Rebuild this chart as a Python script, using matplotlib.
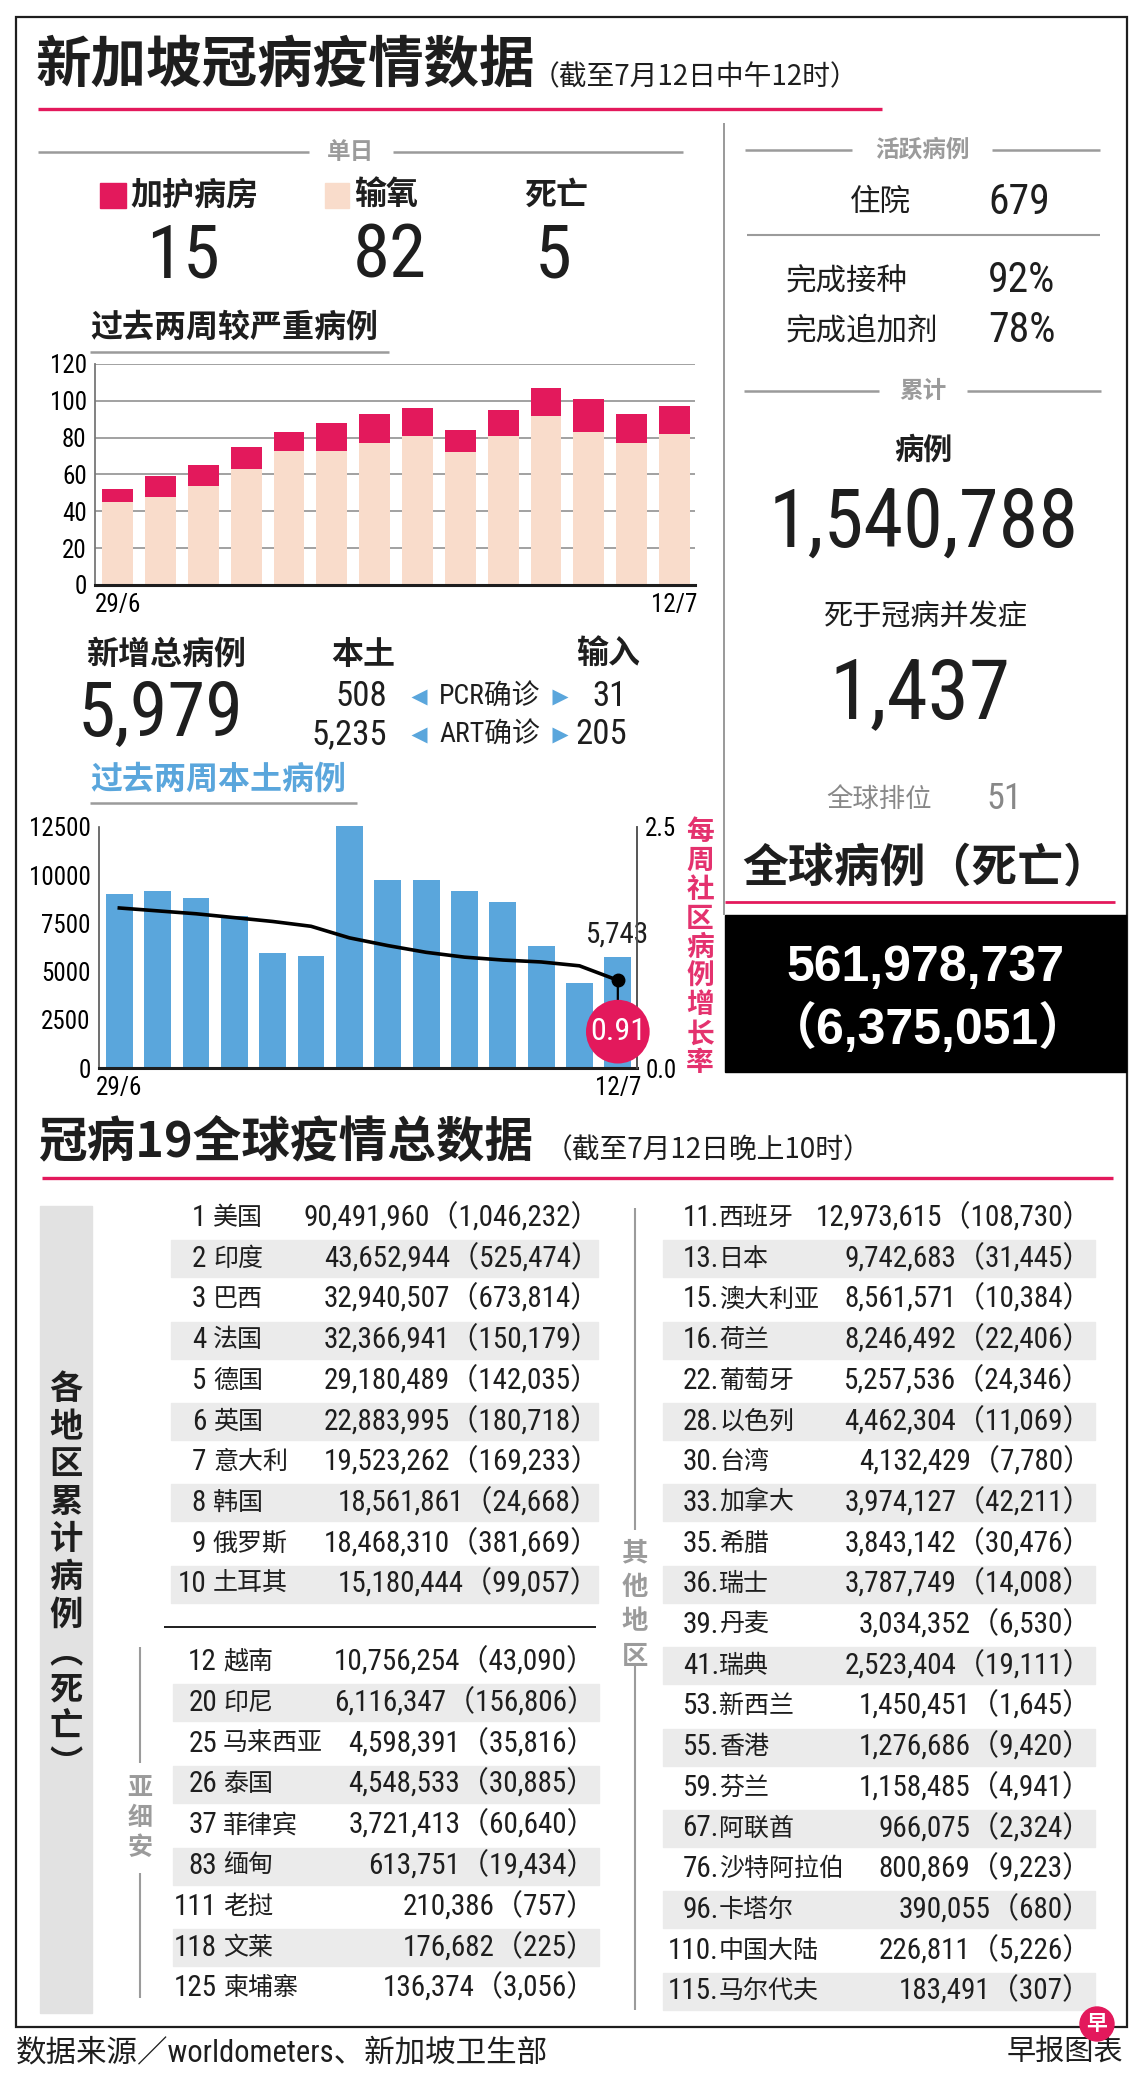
import matplotlib
matplotlib.use('Agg')
import matplotlib.pyplot as plt
from matplotlib import font_manager as fm
from matplotlib.patches import Rectangle, Circle

# ---------------- data ----------------
days = ['29/6', '30/6', '1/7', '2/7', '3/7', '4/7', '5/7', '6/7', '7/7',
        '8/7', '9/7', '10/7', '11/7', '12/7']
icu = [7, 11, 11, 12, 10, 15, 16, 15, 12, 14, 15, 18, 16, 15]
oxygen = [45, 48, 54, 63, 73, 73, 77, 81, 72, 81, 92, 83, 77, 82]
deaths_today = 5

local_cases = [9010, 9160, 8820, 7870, 5980, 5830, 12540, 9770, 9770,
               9160, 8590, 6350, 4410, 5743]
growth_rate = [1.66, 1.63, 1.60, 1.56, 1.52, 1.47, 1.35, 1.27, 1.20,
               1.15, 1.12, 1.10, 1.06, 0.91]

new_cases = 5979
pcr_local, pcr_import = 508, 31
art_local, art_import = 5235, 205

hospitalised = 679
vaccinated = '92%'
booster = '78%'
total_cases = 1540788
total_deaths = 1437
world_rank = 51
global_cases = 561978737
global_deaths = 6375051

top10_rank = [1, 2, 3, 4, 5, 6, 7, 8, 9, 10]
top10_name = ['美国', '印度', '巴西', '法国', '德国', '英国', '意大利', '韩国', '俄罗斯', '土耳其']
top10_cases = [90491960, 43652944, 32940507, 32366941, 29180489, 22883995,
               19523262, 18561861, 18468310, 15180444]
top10_deaths = [1046232, 525474, 673814, 150179, 142035, 180718, 169233,
                24668, 381669, 99057]

asean_rank = [12, 20, 25, 26, 37, 83, 111, 118, 125]
asean_name = ['越南', '印尼', '马来西亚', '泰国', '菲律宾', '缅甸', '老挝', '文莱', '柬埔寨']
asean_cases = [10756254, 6116347, 4598391, 4548533, 3721413, 613751,
               210386, 176682, 136374]
asean_deaths = [43090, 156806, 35816, 30885, 60640, 19434, 757, 225, 3056]

other_rank = [11, 13, 15, 16, 22, 28, 30, 33, 35, 36, 39, 41, 53, 55, 59,
              67, 76, 96, 110, 115]
other_name = ['西班牙', '日本', '澳大利亚', '荷兰', '葡萄牙', '以色列', '台湾', '加拿大',
              '希腊', '瑞士', '丹麦', '瑞典', '新西兰', '香港', '芬兰', '阿联酋',
              '沙特阿拉伯', '卡塔尔', '中国大陆', '马尔代夫']
other_cases = [12973615, 9742683, 8561571, 8246492, 5257536, 4462304,
               4132429, 3974127, 3843142, 3787749, 3034352, 2523404,
               1450451, 1276686, 1158485, 966075, 800869, 390055, 226811,
               183491]
other_deaths = [108730, 31445, 10384, 22406, 24346, 11069, 7780, 42211,
                30476, 14008, 6530, 19111, 1645, 9420, 4941, 2324, 9223,
                680, 5226, 307]

# ---------------- style ----------------
CRIMSON = '#e3195c'
PEACH = '#f9dccb'
BLUE = '#5aa6dc'
PINK = '#e4326e'
GRAY = '#9b9b9b'
STRIPE = '#ebebeb'
INK = '#1e1e1e'


def have(name):
    try:
        fm.findfont(fm.FontProperties(family=name), fallback_to_default=False)
        return True
    except Exception:
        return False


# the original uses a condensed grotesque for figures; use one if present,
# otherwise a regular sans set a little smaller
narrow = [f for f in ['Roboto Condensed', 'Liberation Sans Narrow',
                      'Arial Narrow', 'Nimbus Sans Narrow',
                      'DejaVu Sans Condensed'] if have(f)]
if narrow:
    NUMFACE, NF = narrow[0], 1.0
else:
    NUMFACE, NF = 'Liberation Sans', 0.84

CJK = ['Noto Sans CJK SC', 'DejaVu Sans']
NUM = [NUMFACE, 'Noto Sans CJK SC', 'DejaVu Sans']
BOLDNUM = ['Liberation Sans', 'Noto Sans CJK SC', 'DejaVu Sans']
plt.rcParams['font.family'] = CJK

W, H = 1140, 2076
fig = plt.figure(figsize=(W / 100, H / 100), dpi=100)
fig.patch.set_facecolor('white')

# pixel-space background axes
bg = fig.add_axes([0, 0, 1, 1])
bg.set_xlim(0, W)
bg.set_ylim(H, 0)
bg.axis('off')


def t(x, y, s, size, fam=CJK, ha='center', va='center', **kw):
    kw.setdefault('color', INK)
    bg.text(x, y, s, fontsize=size, family=fam, ha=ha, va=va, **kw)


def hline(x0, x1, y, color=GRAY, lw=1.5):
    bg.plot([x0, x1], [y, y], color=color, lw=lw, solid_capstyle='butt')


def vline(x, y0, y1, color=GRAY, lw=1.5):
    bg.plot([x, x], [y0, y1], color=color, lw=lw, solid_capstyle='butt')


def header(cx, y, label, x0, x1, gap):
    hline(x0, cx - gap, y, lw=1.8)
    hline(cx + gap, x1, y, lw=1.8)
    t(cx, y, label, 17, weight='bold', color=GRAY)


def fmt(v):
    return f'{v:,}'


# outer frame
bg.add_patch(Rectangle((16, 17), 1111, 2010, fill=False, ec=INK, lw=1.6))

# ---------------- title ----------------
t(36, 66, '新加坡冠病疫情数据', 40, ha='left', weight='bold')
t(532, 77, '（截至7月12日中午12时）', 20, ha='left')
hline(38, 882, 109, color=CRIMSON, lw=2.4)

# divider between left and right panels
vline(724, 123, 915, color='#888888', lw=1.2)

# ---------------- daily block ----------------
header(351, 152, '单日', 38, 683, 42)
bg.add_patch(Rectangle((100, 183), 26, 25, color=CRIMSON))
t(130, 196, '加护病房', 23, ha='left', weight='bold')
bg.add_patch(Rectangle((325, 183), 24, 25, color=PEACH))
t(354, 196, '输氧', 23, ha='left', weight='bold')
t(556, 196, '死亡', 23, weight='bold')
t(183, 257, str(icu[-1]), 54 * NF, fam=NUM)
t(390, 257, str(oxygen[-1]), 54 * NF, fam=NUM)
t(553, 257, str(deaths_today), 54 * NF, fam=NUM)

t(90, 328, '过去两周较严重病例', 23, ha='left', weight='bold')
hline(90, 389, 352, lw=1.8)

# chart 1: severe cases
ax1 = fig.add_axes([95 / W, 1 - 585 / H, 600 / W, 221 / H])
ax1.patch.set_alpha(0)
x = list(range(len(days)))
ax1.bar(x, oxygen, width=0.72, color=PEACH, zorder=2)
ax1.bar(x, icu, width=0.72, bottom=oxygen, color=CRIMSON, zorder=2)
ax1.set_xlim(-0.53, 13.48)
ax1.set_ylim(0, 120)
ax1.set_yticks(range(0, 121, 20))
ax1.yaxis.grid(True, color='#9a9a9a', lw=1.3, zorder=0)
ax1.set_axisbelow(True)
ax1.set_xticks([0, 13], [days[0], days[-1]])
for s in ['top', 'right']:
    ax1.spines[s].set_visible(False)
ax1.spines['left'].set_color('#777777')
ax1.spines['left'].set_linewidth(1.3)
ax1.spines['bottom'].set_color(INK)
ax1.spines['bottom'].set_linewidth(2.2)
ax1.tick_params(length=0, labelsize=18 * NF, pad=6)
for lab in ax1.get_xticklabels() + ax1.get_yticklabels():
    lab.set_family(NUM)

# ---------------- new cases block ----------------
t(166, 655, '新增总病例', 23, weight='bold')
t(363, 655, '本土', 23, weight='bold')
t(608, 655, '输入', 23, weight='bold')
t(161, 715, fmt(new_cases), 55 * NF, fam=NUM)
for yy, loc, lab, imp in [(697, pcr_local, 'PCR确诊', pcr_import),
                          (735, art_local, 'ART确诊', art_import)]:
    t(387, yy, fmt(loc), 25 * NF, fam=NUM, ha='right')
    bg.plot(419, yy, marker='<', color=BLUE, ms=11, mec='none')
    t(490, yy, lab, 20, fam=NUM)
    bg.plot(560, yy, marker='>', color=BLUE, ms=11, mec='none')
    t(627, yy, fmt(imp), 25 * NF, fam=NUM, ha='right')

t(90, 780, '过去两周本土病例', 23, ha='left', weight='bold', color=BLUE)
hline(90, 357, 803, lw=1.8)

# chart 2: local cases + weekly growth rate
ax2 = fig.add_axes([99 / W, 1 - 1068 / H, 538 / W, 241 / H])
ax2.patch.set_alpha(0)
ax2.bar(x, local_cases, width=0.70, color=BLUE, zorder=2, clip_on=False)
ax2.set_xlim(-0.53, 13.5)
ax2.set_ylim(0, 12500)
ax2.set_yticks(range(0, 12501, 2500))
ax2.set_xticks([0, 13], [days[0], days[-1]])
ax2.spines['top'].set_visible(False)
for s in ['left', 'right']:
    ax2.spines[s].set_color('#555555')
    ax2.spines[s].set_linewidth(1.2)
ax2.spines['bottom'].set_color(INK)
ax2.spines['bottom'].set_linewidth(2.2)
ax2.tick_params(length=0, labelsize=18 * NF, pad=6)
for lab in ax2.get_xticklabels() + ax2.get_yticklabels():
    lab.set_family(NUM)
ax2.annotate(fmt(local_cases[-1]), (13, local_cases[-1]), xytext=(0, 6),
             textcoords='offset points', ha='center', va='bottom',
             fontsize=21 * NF, family=NUM, color=INK)

axr = ax2.twinx()
axr.set_ylim(0, 2.5)
axr.set_yticks([0, 2.5], ['0.0', '2.5'])
axr.spines['top'].set_visible(False)
axr.spines['right'].set_color('#555555')
axr.spines['right'].set_linewidth(1.2)
axr.spines['left'].set_visible(False)
axr.spines['bottom'].set_visible(False)
axr.tick_params(length=0, labelsize=18 * NF, pad=6)
for lab in axr.get_yticklabels():
    lab.set_family(NUM)
axr.plot(x, growth_rate, color='black', lw=2.6, zorder=3)
axr.plot(x[-1], growth_rate[-1], 'o', color='black', ms=9, zorder=4)
axr.annotate(f'{growth_rate[-1]:.2f}', (x[-1], growth_rate[-1]),
             xytext=(0, -37), textcoords='offset points', ha='center',
             va='center', fontsize=23 * NF, family=NUM, color='white',
             bbox=dict(boxstyle='circle,pad=0.12', fc=CRIMSON, ec='none'),
             arrowprops=dict(arrowstyle='-', color='black', lw=1.6,
                             shrinkA=0, shrinkB=0), zorder=5)

for i, ch in enumerate('每周社区病例增长率'):
    t(700, 832 + i * 28.9, ch, 20, weight='bold', color=PINK)

# ---------------- right panel ----------------
header(922, 150, '活跃病例', 745, 1100, 70)
t(880, 202, '住院', 22)
t(988, 202, str(hospitalised), 30 * NF, fam=NUM, ha='left')
hline(747, 1100, 235, lw=1.5)
t(786, 281, '完成接种', 22, ha='left')
t(988, 281, vaccinated, 30 * NF, fam=NUM, ha='left')
t(786, 331, '完成追加剂', 22, ha='left')
t(988, 331, booster, 30 * NF, fam=NUM, ha='left')

header(923, 391, '累计', 744, 1101, 44)
t(923, 450, '病例', 21, weight='bold')
t(924, 525, fmt(total_cases), 58 * NF, fam=NUM)
t(926, 618, '死于冠病并发症', 21)
t(920, 695, fmt(total_deaths), 60 * NF, fam=NUM)
t(879, 799, '全球排位', 19, color='#888888')
t(986, 799, str(world_rank), 26 * NF, fam=NUM, ha='left', color='#888888')

t(926, 868, '全球病例（死亡）', 33, weight='bold')
hline(725, 1115, 902, color=CRIMSON, lw=2)
bg.add_patch(Rectangle((725, 915), 401, 157, color='black'))
t(926, 968, fmt(global_cases), 36, fam=BOLDNUM, weight='bold', color='white')
t(928, 1029, f'（{fmt(global_deaths)}）', 36, fam=BOLDNUM, weight='bold',
  color='white')

# ---------------- global table ----------------
t(38, 1142, '冠病19全球疫情总数据', 35, ha='left', weight='bold')
t(545, 1150, '（截至7月12日晚上10时）', 20, ha='left')
hline(42, 1113, 1178, color=CRIMSON, lw=2.4)

# side label
bg.add_patch(Rectangle((40, 1206), 52, 807, color='#e2e2e2'))
for i, ch in enumerate('各地区累计病例︵死亡︶'):
    t(66, 1390 + i * 37.5, ch, 24, weight='bold')

TS = 21 * NF


def table(y0, pitch, ranks, names, cases, deaths, rank_x, name_x, num_x,
          sx0, sx1, dot=False):
    for i in range(len(ranks)):
        yy = y0 + i * pitch
        if i % 2 == 1:
            bg.add_patch(Rectangle((sx0, yy - 18.5), sx1 - sx0, 37,
                                   color=STRIPE, zorder=0))
        r = f'{ranks[i]}.' if dot else str(ranks[i])
        t(rank_x, yy, r, TS, fam=NUM, ha='right')
        t(name_x, yy, names[i], 18, ha='left')
        t(num_x, yy, f'{fmt(cases[i])}（{fmt(deaths[i])}）', TS, fam=NUM,
          ha='right')


table(1218, 40.7, top10_rank, top10_name, top10_cases, top10_deaths,
      206, 213, 600, 171, 598)
hline(164, 596, 1627, color=INK, lw=1.4)
table(1662, 40.8, asean_rank, asean_name, asean_cases, asean_deaths,
      217, 223, 596, 173, 599)
vline(140, 1647, 1763)
vline(140, 1873, 1998)
for i, ch in enumerate('亚细安'):
    t(140, 1788 + i * 30, ch, 18, weight='bold', color=GRAY)

table(1218, 40.7, other_rank, other_name, other_cases, other_deaths,
      719, 719, 1092, 663, 1095, dot=True)
vline(635, 1208, 1530)
vline(635, 1665, 2010)
for i, ch in enumerate('其他地区'):
    t(635, 1553 + i * 34.5, ch, 19, weight='bold', color=GRAY)

# footer
t(16, 2053, '数据来源／worldometers、新加坡卫生部', 22, fam=NUM, ha='left')
t(1123, 2053, '早报图表', 21, ha='right')
bg.add_patch(Circle((1097, 2024), 17, color=CRIMSON, zorder=5))
t(1097, 2023, '早', 15, weight='bold', color='white', zorder=6)

fig.savefig('out.png', dpi=100, facecolor='white')
